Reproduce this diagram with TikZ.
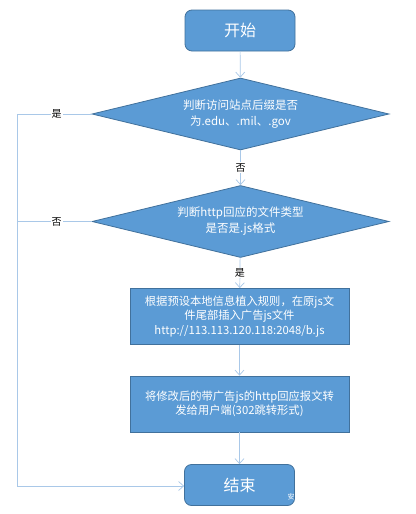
\documentclass[tikz,border=0pt]{standalone}
\usepackage{fontspec}
\setmainfont{Noto Sans CJK SC}
\usetikzlibrary{shapes.geometric,arrows.meta}
\definecolor{boxfill}{HTML}{5B9BD5}
\definecolor{boxdraw}{HTML}{41719C}
\definecolor{conn}{HTML}{A9C8E8}
\tikzset{
  base/.style={fill=boxfill,draw=boxdraw,line width=0.8pt,text=white,align=center,inner sep=0pt},
  term/.style={base,rounded corners=7pt,minimum width=110pt,minimum height=41pt,font=\fontsize{16}{18}\selectfont},
  decide/.style={base,diamond,aspect=4.125,minimum width=297pt,minimum height=72pt,font=\fontsize{11.5}{16}\selectfont},
  proc/.style={base,minimum width=219pt,minimum height=56pt,font=\fontsize{11.3}{14.5}\selectfont},
  conline/.style={draw=conn,line width=0.7pt},
  arr/.style={conline,-{Straight Barb[length=5pt,width=9pt]}},
  lbl/.style={fill=white,inner sep=1pt,text=black,font=\fontsize{10}{12}\selectfont}
}
\begin{document}
\begin{tikzpicture}[x=1pt,y=-1pt]
\useasboundingbox[fill=white] (0,0) rectangle (415,514);
\node[term] (start) at (240,30.5) {开始};
\node[decide] (d1) at (240.5,114) {判断访问站点后缀是否\\为.edu、.mil、.gov};
\node[decide] (d2) at (240.5,221.5) {判断http回应的文件类型\\是否是.js格式};
\node[proc] (p1) at (239.5,316.5) {根据预设本地信息植入规则，在原js文\\件尾部插入广告js文件\\http://113.113.120.118:2048/b.js};
\node[proc] (p2) at (239.5,404) {将修改后的带广告js的http回应报文转\\发给用户端(302跳转形式)};
\node[term] (end) at (239.5,485) {结束};
\node[text=white,font=\fontsize{7}{8}\selectfont,inner sep=0pt] (wm) at (291,497) {安};
\coordinate (c1) at (17,114);
\coordinate (c2) at (17,221.5);
\coordinate (c3) at (17,486);
\draw[arr] (start) -- (d1);
\draw[arr] (d1) -- node[lbl] (n1) {否} (d2);
\draw[arr] (d2) -- node[lbl] (y2) {是} (p1);
\draw[arr] (p1) -- (p2);
\draw[arr] (p2) -- (end);
\draw[arr] (d1.west) -- node[lbl,pos=0.47] (y1) {是} (c1) -- (c3) -- (end.west |- c3);
\draw[conline] (d2.west) -- node[lbl,pos=0.47] (n2) {否} (c2);
\end{tikzpicture}
\end{document}
